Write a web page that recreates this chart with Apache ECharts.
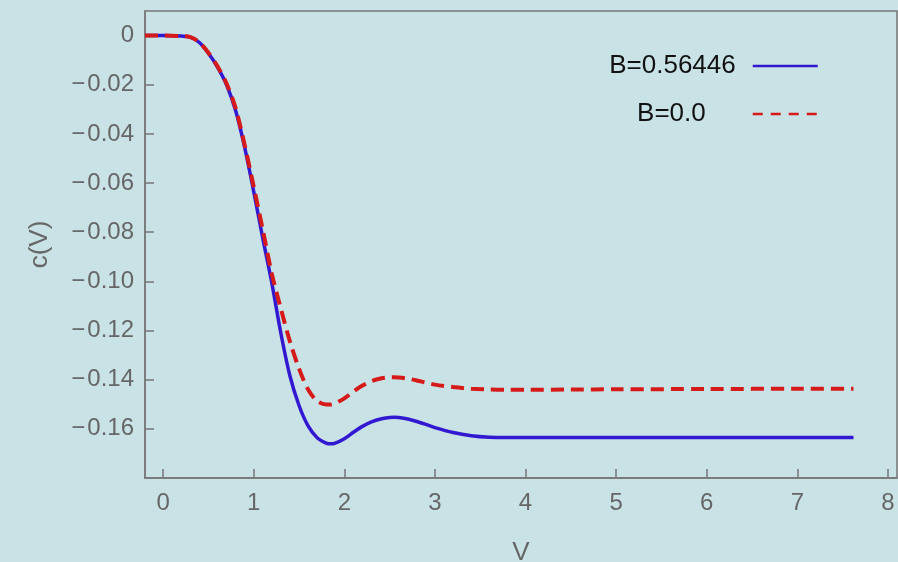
<!DOCTYPE html>
<html>
<head>
<meta charset="utf-8">
<script src="https://cdn.jsdelivr.net/npm/echarts@6/dist/echarts.min.js"></script>
<style>
html,body{margin:0;padding:0;background:#c9e2e6;}
#chart{width:898px;height:562px;}
</style>
</head>
<body>
<div id="chart"></div>
<script>
// V values (x)
const vValues = [-0.2, 0, 0.2, 0.3, 0.4, 0.5, 0.6, 0.7, 0.8, 0.9, 1.0, 1.1, 1.2, 1.3, 1.4, 1.5, 1.6, 1.7, 1.8, 1.85, 1.9, 2.0, 2.1, 2.2, 2.3, 2.4, 2.5, 2.55, 2.6, 2.7, 2.8, 2.9, 3.0, 3.2, 3.4, 3.6, 3.8, 4.0, 4.5, 5.0, 6.0, 7.0, 7.62];
// c(V) for B=0.56446 (blue solid)
const cBlue = [0, 0, -0.0002, -0.0006, -0.0028, -0.0072, -0.0128, -0.0200, -0.0305, -0.0455, -0.0635, -0.0825, -0.1007, -0.1212, -0.1385, -0.1505, -0.1588, -0.1636, -0.1658, -0.1661, -0.1658, -0.1640, -0.1614, -0.1590, -0.1572, -0.1560, -0.1554, -0.1553, -0.1554, -0.1560, -0.1570, -0.1582, -0.1595, -0.1615, -0.1628, -0.1634, -0.1635, -0.1635, -0.1635, -0.1635, -0.1635, -0.1635, -0.1635];
// c(V) for B=0.0 (red dashed)
const cRed = [0, 0, -0.0002, -0.0006, -0.0027, -0.0070, -0.0125, -0.0195, -0.0295, -0.0445, -0.0615, -0.0790, -0.0970, -0.1112, -0.1245, -0.1355, -0.1440, -0.1487, -0.1501, -0.1501, -0.1496, -0.1476, -0.1448, -0.1424, -0.1406, -0.1395, -0.1390, -0.1390, -0.1391, -0.1396, -0.1403, -0.1412, -0.1420, -0.1430, -0.1437, -0.1440, -0.1441, -0.1441, -0.1440, -0.1439, -0.1438, -0.1437, -0.1437];
// tick values
const xTicks = [0, 1, 2, 3, 4, 5, 6, 7, 8];
const yTicks = [0, -0.02, -0.04, -0.06, -0.08, -0.10, -0.12, -0.14, -0.16];
const seriesNames = ['B=0.56446', 'B=0.0'];

const toPairs = (xs, ys) => xs.map((x, i) => [x, ys[i]]);
const fmtY = v => Math.abs(v) < 1e-9 ? '0' : '\u2212\u200A' + Math.abs(v).toFixed(2);

const axisGray = '#777777';
const labelGray = '#666666';
const font = 'Liberation Sans, Arial, Helvetica, sans-serif';

const chart = echarts.init(document.getElementById('chart'), null, {renderer: 'canvas'});
chart.setOption({
  backgroundColor: '#c9e2e6',
  animation: false,
  grid: {left: 145, right: 1, top: 11, bottom: 84, show: true, borderColor: axisGray, borderWidth: 1.5,
         backgroundColor: 'transparent', containLabel: false, outerBoundsMode: 'none'},
  legend: [
    {data: [seriesNames[0]], right: 74, top: 48, align: 'right', itemWidth: 65, itemHeight: 24,
     itemStyle: {opacity: 0}, lineStyle: {width: 2.5},
     textStyle: {fontSize: 26, color: '#111', fontFamily: font, padding: [0, 12, 0, 0]}},
    {data: [seriesNames[1]], right: 74, top: 96, align: 'right', itemWidth: 65, itemHeight: 24,
     itemStyle: {opacity: 0}, lineStyle: {width: 2.5, type: [10, 8]},
     textStyle: {fontSize: 26, color: '#111', fontFamily: font, padding: [0, 42, 0, 0]}}
  ],
  xAxis: {
    type: 'value', min: -0.2, max: 8.1,
    name: 'V', nameLocation: 'middle', nameGap: 62,
    nameTextStyle: {fontSize: 26, color: labelGray, fontFamily: font},
    axisLine: {show: true, onZero: false, lineStyle: {color: axisGray, width: 1.5}},
    axisTick: {show: true, inside: true, length: 9, customValues: xTicks, lineStyle: {color: axisGray, width: 1.5}},
    axisLabel: {customValues: xTicks, margin: 13, fontSize: 24, color: labelGray, fontFamily: font},
    splitLine: {show: false}
  },
  yAxis: {
    type: 'value', min: -0.18, max: 0.01,
    name: 'c(V)', nameLocation: 'middle', nameGap: 92, nameRotate: 90,
    nameTextStyle: {fontSize: 26, color: labelGray, fontFamily: font},
    axisLine: {show: true, onZero: false, lineStyle: {color: axisGray, width: 1.5}},
    axisTick: {show: true, inside: true, length: 9, customValues: yTicks, lineStyle: {color: axisGray, width: 1.5}},
    axisLabel: {customValues: yTicks, margin: 11, fontSize: 24, color: labelGray, fontFamily: font, formatter: fmtY},
    splitLine: {show: false}
  },
  series: [
    {name: seriesNames[0], type: 'line', data: toPairs(vValues, cBlue), showSymbol: false, symbol: 'none',
     smooth: 0.3,
     lineStyle: {color: '#3318d2', width: 3.5}, itemStyle: {color: '#3318d2'}},
    {name: seriesNames[1], type: 'line', data: toPairs(vValues, cRed), showSymbol: false, symbol: 'none',
     smooth: 0.3,
     lineStyle: {color: '#d61a1a', width: 4, type: [13, 7]}, itemStyle: {color: '#d61a1a'}}
  ]
});
</script>
</body>
</html>
